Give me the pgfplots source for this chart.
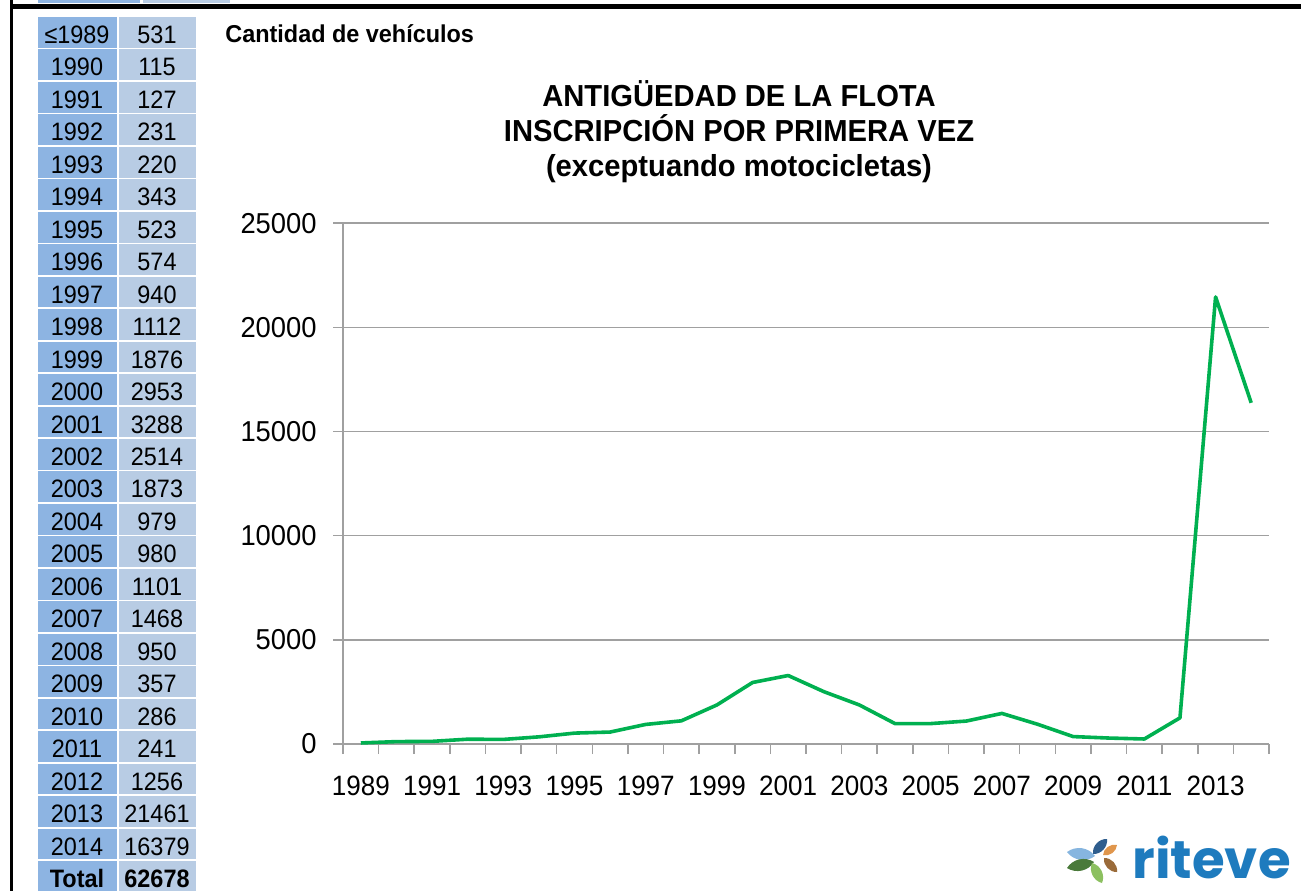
\documentclass[border=0pt]{standalone}
\usepackage{fontspec}
\setmainfont{Liberation Sans}
\newfontfamily\tabfont{Liberation Sans}[FakeStretch=0.93]
\newfontfamily\xfont{Liberation Sans}[FakeStretch=0.93]
\newfontfamily\yfont{Liberation Sans}[FakeStretch=0.95]
\newfontfamily\titfont{Liberation Sans}[FakeStretch=0.96]
\newfontfamily\logofont{Poppins}
\usepackage{pgfplots}
\pgfplotsset{compat=1.18}
\definecolor{linegreen}{HTML}{00B050}
\definecolor{gridgray}{HTML}{A0A0A0}
\definecolor{cellA}{HTML}{8DB4E2}
\definecolor{cellB}{HTML}{B8CCE4}
\definecolor{logoblue}{HTML}{1E7BBE}
\definecolor{leafA}{HTML}{86B5DF}
\definecolor{leafB}{HTML}{2F5E8E}
\definecolor{leafC}{HTML}{E0964C}
\definecolor{leafD}{HTML}{9A6B3A}
\definecolor{leafE}{HTML}{4A7A3A}
\definecolor{leafF}{HTML}{8CC060}
\newcommand{\tablefont}{\tabfont\fontsize{12.6}{14}\selectfont}
\begin{document}
\begin{tikzpicture}
\useasboundingbox (0,0) rectangle (650.5pt,445.5pt);
\begin{scope}[x=0.5pt,y=-0.5pt,yshift=445.5pt]
  % frame
  \fill[black] (10,0) rectangle (12.5,891);
  \fill[black] (10,4) rectangle (1301,9);
  \fill[cellA] (38,0) rectangle (140,3);
  \fill[cellB] (143,0) rectangle (230,3);
  % table
  \foreach \lab/\val [count=\i from 0] in {≤1989/531,1990/115,1991/127,1992/231,1993/220,1994/343,1995/523,1996/574,1997/940,1998/1112,1999/1876,2000/2953,2001/3288,2002/2514,2003/1873,2004/979,2005/980,2006/1101,2007/1468,2008/950,2009/357,2010/286,2011/241,2012/1256,2013/21461,2014/16379}{
    \fill[cellA] (38,{17+\i*32.46}) rectangle (117,{17+\i*32.46+30.8});
    \fill[cellB] (119,{17+\i*32.46}) rectangle (196,{17+\i*32.46+30.8});
    \node[anchor=base,inner sep=0pt] at (77,{43.5+\i*32.46}) {\tablefont \lab};
    \node[anchor=base,inner sep=0pt] at (157,{43.5+\i*32.46}) {\tablefont \val};
  }
  \fill[cellA] (38,{17+26*32.46}) rectangle (117,891);
  \fill[cellB] (119,{17+26*32.46}) rectangle (196,891);
  \node[anchor=base,inner sep=0pt] at (77,{43.5+26*32.46}) {\tablefont\bfseries Total};
  \node[anchor=base,inner sep=0pt] at (157,{43.5+26*32.46}) {\tablefont\bfseries 62678};
  % headings
  \node[anchor=base west,inner sep=0pt] at (225,42.7) {\titfont\fontsize{12.2}{14}\selectfont\bfseries Cantidad de vehículos};
  \node[anchor=base,inner sep=0pt] at (739,106.7) {\titfont\fontsize{15.2}{17}\selectfont\bfseries ANTIGÜEDAD DE LA FLOTA};
  \node[anchor=base,inner sep=0pt] at (739,141.7) {\titfont\fontsize{15.2}{17}\selectfont\bfseries INSCRIPCIÓN POR PRIMERA VEZ};
  \node[anchor=base,inner sep=0pt] at (739,176.7) {\titfont\fontsize{15.2}{17}\selectfont\bfseries (exceptuando motocicletas)};
  % logo
  \fill[leafA] (1067,852) to[bend left=45] (1095,856) to[bend left=45] (1067,852);
  \fill[leafB] (1093,854) to[bend left=50] (1107,839) to[bend left=50] (1093,854);
  \fill[leafC] (1103,855) to[bend left=50] (1117,845) to[bend left=50] (1103,855);
  \fill[leafD] (1104,858) to[bend left=50] (1117,872) to[bend left=50] (1104,858);
  \fill[leafE] (1067,868) to[bend left=45] (1094,862) to[bend left=45] (1067,868);
  \fill[leafF] (1092,863) to[bend left=50] (1102,883) to[bend left=50] (1092,863);
  \node[anchor=base west,inner sep=0pt,text=logoblue] at (1132,878) {\logofont\bfseries\fontsize{26.5}{26.5}\selectfont riteve};
\end{scope}
\begin{axis}[
  at={(171.5pt,73.5pt)}, anchor=south west,
  scale only axis, width=463pt, height=260.4pt,
  xmin=-0.5, xmax=25.5, ymin=0, ymax=25000,
  axis lines*=left,
  axis line style={gridgray, line width=0.75pt},
  tick style={gridgray, line width=0.75pt},
  tick align=outside,
  major tick length=5pt,
  xtick={-0.5,0.5,...,25.5},
  xticklabels={},
  extra x ticks={0,2,...,24},
  extra x tick labels={1989,1991,1993,1995,1997,1999,2001,2003,2005,2007,2009,2011,2013},
  extra x tick style={major tick length=0pt},
  xticklabel style={font=\xfont\fontsize{14}{16}\selectfont, inner sep=0pt, anchor=north},
  xticklabel shift=16pt,
  ytick={0,5000,...,25000},
  scaled y ticks=false,
  ymajorgrids, grid style={gridgray, line width=0.75pt},
  yticklabel style={font=\yfont\fontsize{14.4}{16}\selectfont, inner sep=0pt, anchor=east},
  yticklabel shift=8pt,
  /pgf/number format/.cd, set thousands separator={}, assume math mode=true,
]
\addplot[linegreen, line width=1.8pt, line join=round, mark=none] coordinates {
(0,50) (1,115) (2,127) (3,231) (4,220) (5,343) (6,523) (7,574) (8,940) (9,1112)
(10,1876) (11,2953) (12,3288) (13,2514) (14,1873) (15,979) (16,980) (17,1101)
(18,1468) (19,950) (20,357) (21,286) (22,241) (23,1256) (24,21461) (25,16379)};
\end{axis}
\end{tikzpicture}
\end{document}
